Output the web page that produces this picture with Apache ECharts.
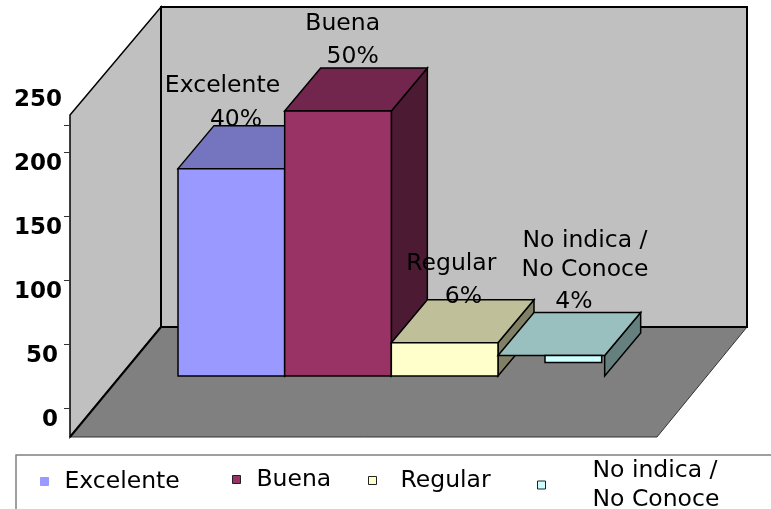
<!DOCTYPE html>
<html><head><meta charset="utf-8">
<style>html,body{margin:0;padding:0;background:#fff}#c{width:771px;height:509px}</style>
<script src="https://cdn.jsdelivr.net/npm/echarts@6/dist/echarts.min.js"></script>
</head><body><div id="c"></div>
<script>
const categories = ['Excelente', 'Buena', 'Regular', 'No indica /\nNo Conoce'];
const values = [162, 207, 26, 16];
const percents = ['40%', '50%', '6%', '4%'];
const yTickLabels = [0, 50, 100, 150, 200, 250];
const yTickMarks = [0, 50, 100, 150, 200, 221];

const frontColors = ['#9999FF', '#993366', '#FFFFCC', '#CCFFFF'];
const topColors = ['#7575BF', '#73264D', '#BFBF99', '#99BFBF'];
const sideColors = ['#5C5C99', '#4C1A33', '#808066', '#668080'];
const labelOffsets = [
  [[44.5, -83], [58, -49]],
  [[58, -87], [68, -54]],
  [[60, -79], [72, -46]],
  [[87, -115], [87, -86], [76, -54]]
];
const legendLayout = [
  {left: 40, top: 467, gap: 11},
  {left: 232, top: 465, gap: 11},
  {left: 368, top: 466, gap: 19},
  {left: 537, top: 456, gap: 42}
];
const DEPTH_X = 36, DEPTH_Y = -43;
const FONT = '"DejaVu Sans", Verdana, sans-serif';
const chart = echarts.init(document.getElementById('c'), null, {renderer: 'canvas'});

function poly(points, fill, lw, stroke) {
  return {type: 'polygon', shape: {points}, style: {fill, stroke: stroke || '#000', lineWidth: lw === undefined ? 1.5 : lw}};
}
function makeRender(i) {
  return function (params, api) {
    const top = api.coord([api.value(0), api.value(1)]);
    const base = api.coord([api.value(0), 0]);
    const band = api.size([1, 0])[0];
    const l = top[0] - band / 2, r = top[0] + band / 2, t = top[1], b = base[1];
    const side = poly([[r, t], [r + DEPTH_X, t + DEPTH_Y], [r + DEPTH_X, b + DEPTH_Y], [r, b]], sideColors[i]);
    const upper = poly([[l, t], [l + DEPTH_X, t + DEPTH_Y], [r + DEPTH_X, t + DEPTH_Y], [r, t]], topColors[i]);
    const front = i === 3
      ? poly([[l + 47, t], [r - 3, t], [r - 3, t + 7], [l + 47, t + 7]], frontColors[i])
      : poly([[l, t], [r, t], [r, b], [l, b]], frontColors[i]);
    const lines = categories[i].split('\n').concat(percents[i]);
    const texts = lines.map((txt, k) => ({
      type: 'text',
      style: {
        text: txt, x: l + labelOffsets[i][k][0], y: t + labelOffsets[i][k][1],
        align: 'center', verticalAlign: 'middle', fill: '#000', font: '23.5px ' + FONT
      }
    }));
    return {type: 'group', children: [side, upper, front].concat(texts)};
  };
}

chart.setOption({
  animation: false,
  backgroundColor: '#fff',
  grid: [
    {left: 70, top: 88, width: 100, height: 320},
    {left: 178, top: 56, width: 426.67, height: 320}
  ],
  xAxis: [
    {gridIndex: 0, type: 'category', data: categories, show: false},
    {gridIndex: 1, type: 'category', data: categories, show: false}
  ],
  yAxis: [
    {
      gridIndex: 0, type: 'value', min: 0, max: 250, interval: 50,
      axisLine: {show: false}, splitLine: {show: false},
      axisTick: {show: true, length: 6, customValues: yTickMarks, lineStyle: {color: '#333', width: 1}},
      axisLabel: {
        customValues: yTickLabels, color: '#000', fontFamily: FONT, fontWeight: 'bold', fontSize: 23,
        margin: 8, verticalAlign: 'top', padding: [1, 0, 0, 0],
        formatter: v => v < 100 ? '{s|' + v + '}' : String(v),
        rich: {s: {padding: [0, 4, 0, 0], fontFamily: FONT, fontWeight: 'bold', fontSize: 23, color: '#000'}}
      }
    },
    {gridIndex: 1, type: 'value', min: 0, max: 250, show: false}
  ],
  legend: categories.map((c, i) => ({
    data: [c], left: legendLayout[i].left, top: legendLayout[i].top, padding: 0,
    itemWidth: 8, itemHeight: 8, itemGap: 0, icon: 'rect',
    selectedMode: false,
    itemStyle: {borderColor: i === 0 ? '#9999FF' : '#222', borderWidth: 1},
    textStyle: {
      color: '#000', fontFamily: FONT, fontSize: 23.5, lineHeight: 29,
      padding: [0, 0, 0, legendLayout[i].gap]
    }
  })),
  graphic: {elements: [
    {type: 'polygon', z: 0, shape: {points: [[70, 115], [161, 7], [161, 327], [70, 437]]}, style: {fill: '#C0C0C0', stroke: '#000', lineWidth: 1.5}},
    {type: 'polygon', z: 0, shape: {points: [[161, 7], [747, 7], [747, 327], [161, 327]]}, style: {fill: '#C0C0C0', stroke: '#000', lineWidth: 2}},
    {type: 'polygon', z: 1, shape: {points: [[70, 437], [161, 327], [747, 327], [657, 437]]}, style: {fill: '#808080', stroke: '#333', lineWidth: 1}},
    {type: 'polyline', z: 1, shape: {points: [[70, 437], [161, 327]]}, style: {stroke: '#000', lineWidth: 2}},
    {type: 'polyline', z: 1, shape: {points: [[161, 327], [747, 327]]}, style: {stroke: '#000', lineWidth: 2}},
    {type: 'polyline', z: 1, shape: {points: [[16, 509], [16, 455], [771, 455]]}, style: {stroke: '#808080', fill: null, lineWidth: 1.5}}
  ]},
  series: categories.map((c, i) => ({
    type: 'custom', name: c, xAxisIndex: 1, yAxisIndex: 1, clip: false, z: 5 + i,
    itemStyle: {color: frontColors[i]},
    renderItem: makeRender(i),
    encode: {x: 0, y: 1},
    data: [[i, values[i]]]
  }))
});
</script></body></html>
